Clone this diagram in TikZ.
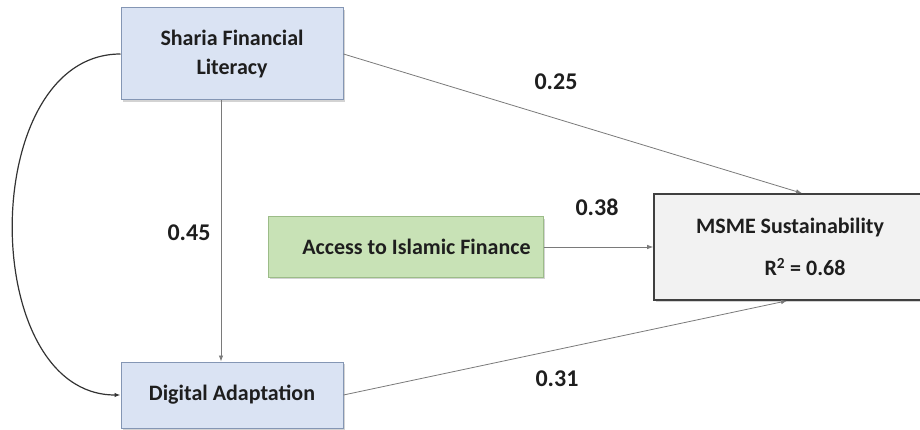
\documentclass[tikz,border=0pt]{standalone}
\usepackage{fontspec}
\setmainfont{Carlito}
\usetikzlibrary{arrows.meta,shadows}

\definecolor{varblue}{HTML}{DAE3F3}
\definecolor{varblueline}{HTML}{8496B4}
\definecolor{vargreen}{HTML}{C8E2B6}
\definecolor{vargreenline}{HTML}{9CBC88}
\definecolor{vargray}{HTML}{F2F2F2}
\definecolor{vargrayline}{HTML}{404040}
\definecolor{pathgray}{HTML}{7A7A7A}
\definecolor{txtdark}{HTML}{1E1E1E}

\tikzset{
  varbox/.style={draw, rectangle, inner sep=0pt, align=center, text=txtdark,
    font=\fontsize{22}{29}\selectfont\bfseries,
    drop shadow={shadow xshift=2pt, shadow yshift=-2pt, opacity=0.35, fill=gray}},
  bluebox/.style={varbox, fill=varblue, draw=varblueline, line width=1pt},
  greenbox/.style={varbox, fill=vargreen, draw=vargreenline, line width=1pt},
  graybox/.style={varbox, fill=vargray, draw=vargrayline, line width=1.6pt},
  coef/.style={text=txtdark, font=\fontsize{24}{28}\selectfont\bfseries},
  link/.style={->, draw=pathgray, line width=0.8pt},
}

\begin{document}
\begin{tikzpicture}[x=1pt, y=-1pt, >={Latex[length=6pt,width=4.5pt]}]
\useasboundingbox (0,0) rectangle (920,430);

\node[bluebox, minimum width=222pt, minimum height=92pt] (sfl) at (232, 54) {Sharia Financial\\Literacy};
\node[bluebox, minimum width=222pt, minimum height=66pt] (da) at (232, 395) {Digital Adaptation};
\node[greenbox, minimum width=275pt, minimum height=60pt] (aif) at (405.5, 247) {\hspace*{22pt}Access to Islamic Finance};
\node[graybox, minimum width=272pt, minimum height=106pt] (msme) at (790, 247)
  {MSME Sustainability\\[13pt]\hspace*{30pt}R\textsuperscript{2} = 0.68};

\node[coef] (c25) at (556, 82)  {0.25};
\node[coef] (c38) at (597, 207) {0.38};
\node[coef] (c45) at (189, 233) {0.45};
\node[coef] (c31) at (557, 379) {0.31};

\path (sfl.east) edge[link] ([xshift=12pt]msme.north);
\path (aif.east) edge[link] (msme.west);
\path (da.east) edge[link] ([xshift=-3pt]msme.south);
\path ([xshift=-11pt]sfl.south) edge[link] ([xshift=-11pt]da.north);

\draw[->, draw=black!80, line width=1.2pt] (sfl.west) .. controls (-23, 54) and (-23, 395) .. (da.west);

\end{tikzpicture}
\end{document}
